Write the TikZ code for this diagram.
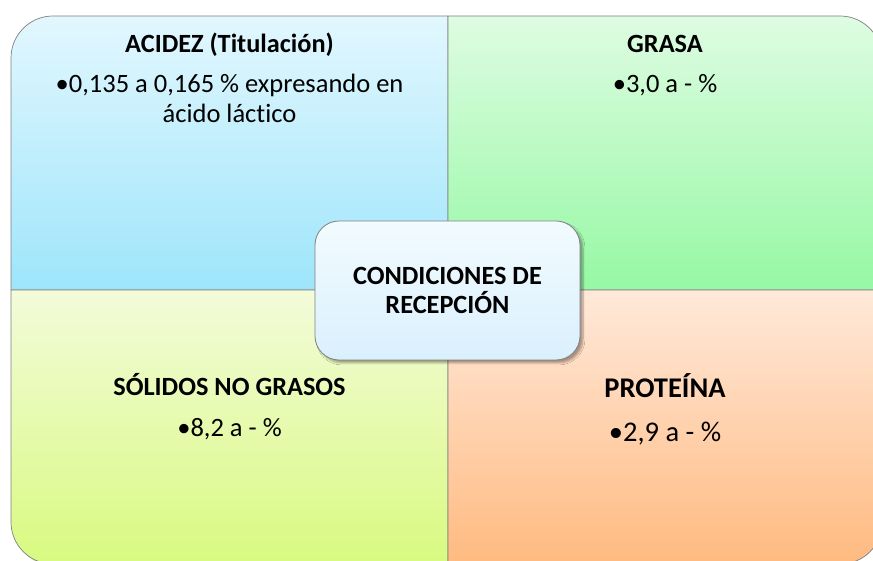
\documentclass[tikz,border=0pt]{standalone}
\usepackage{fontspec}
\setmainfont{Carlito}[Ligatures={NoCommon,NoRequired,NoContextual}]
\usetikzlibrary{shadows.blur}
\definecolor{tlA}{RGB}{226,247,254}
\definecolor{tlB}{RGB}{158,229,251}
\definecolor{trA}{RGB}{222,252,226}
\definecolor{trB}{RGB}{150,248,164}
\definecolor{blA}{RGB}{243,251,218}
\definecolor{blB}{RGB}{216,250,128}
\definecolor{brA}{RGB}{255,233,218}
\definecolor{brB}{RGB}{255,186,128}
\definecolor{cbA}{RGB}{242,251,255}
\definecolor{cbB}{RGB}{218,240,253}
\definecolor{edge}{RGB}{128,128,128}
\tikzset{
  quad/.style={draw=edge, line width=0.7pt},
  title/.style={font=\fontsize{26.3}{30}\selectfont\bfseries, inner sep=0pt, anchor=base},
  body/.style={font=\fontsize{26.5}{30}\selectfont, inner sep=0pt, anchor=base, align=center},
  bigtitle/.style={font=\fontsize{28.5}{33}\selectfont\bfseries, inner sep=0pt, anchor=base},
  bigbody/.style={font=\fontsize{28.5}{33}\selectfont, inner sep=0pt, anchor=base},
  centerbox/.style={draw=edge, line width=0.8pt, rounded corners=24pt,
    top color=cbA, bottom color=cbB, minimum width=265pt, minimum height=139pt,
    align=center, font=\fontsize{26.3}{29}\selectfont\bfseries,
    blur shadow={shadow xshift=3pt, shadow yshift=-3pt, shadow blur steps=6, shadow opacity=35}}
}
\begin{document}
\begin{tikzpicture}[x=1pt,y=1pt]
\useasboundingbox (0,0) rectangle (873,561);
% outer shadow
\fill[black!12] (14,36) .. controls (14,12.8) and (32.8,-6) .. (56,-6) -- (843,-6) -- (843,30) -- (14,30) -- cycle;
% quadrants
\path[quad, top color=tlA, bottom color=tlB]
  (448,271) -- (11,271) -- (11,503) .. controls (11,526.2) and (29.8,545) .. (53,545) -- (448,545) -- cycle;
\path[quad, top color=trA, bottom color=trB]
  (448,271) -- (448,545) -- (840,545) .. controls (863.2,545) and (882,526.2) .. (882,503) -- (882,271) -- cycle;
\path[quad, top color=blA, bottom color=blB]
  (448,271) -- (11,271) -- (11,39) .. controls (11,15.8) and (29.8,-3) .. (53,-3) -- (448,-3) -- cycle;
\path[quad, top color=brA, bottom color=brB]
  (448,271) -- (882,271) -- (882,39) .. controls (882,15.8) and (864.2,-3) .. (840,-3) -- (448,-3) -- cycle;
% texts
\node[title] (t1) at (229.5,508) {ACIDEZ (Titulación)};
\node[body] (b1a) at (229.5,468) {•0,135 a 0,165 \% expresando en};
\node[body] (b1b) at (229.5,438) {ácido láctico};
\node[title] (t2) at (665,508) {GRASA};
\node[body] (b2) at (665,468) {•3,0 a - \%};
\node[title] (t3) at (229.5,165) {SÓLIDOS NO GRASOS};
\node[body] (b3) at (229.5,124) {•8,2 a - \%};
\node[bigtitle] (t4) at (665,163) {PROTEÍNA};
\node[bigbody] (b4) at (665,119) {•2,9 a - \%};
% center
\node[centerbox] (c) at (447.5,270.5) {CONDICIONES DE\\RECEPCIÓN};
\end{tikzpicture}
\end{document}
